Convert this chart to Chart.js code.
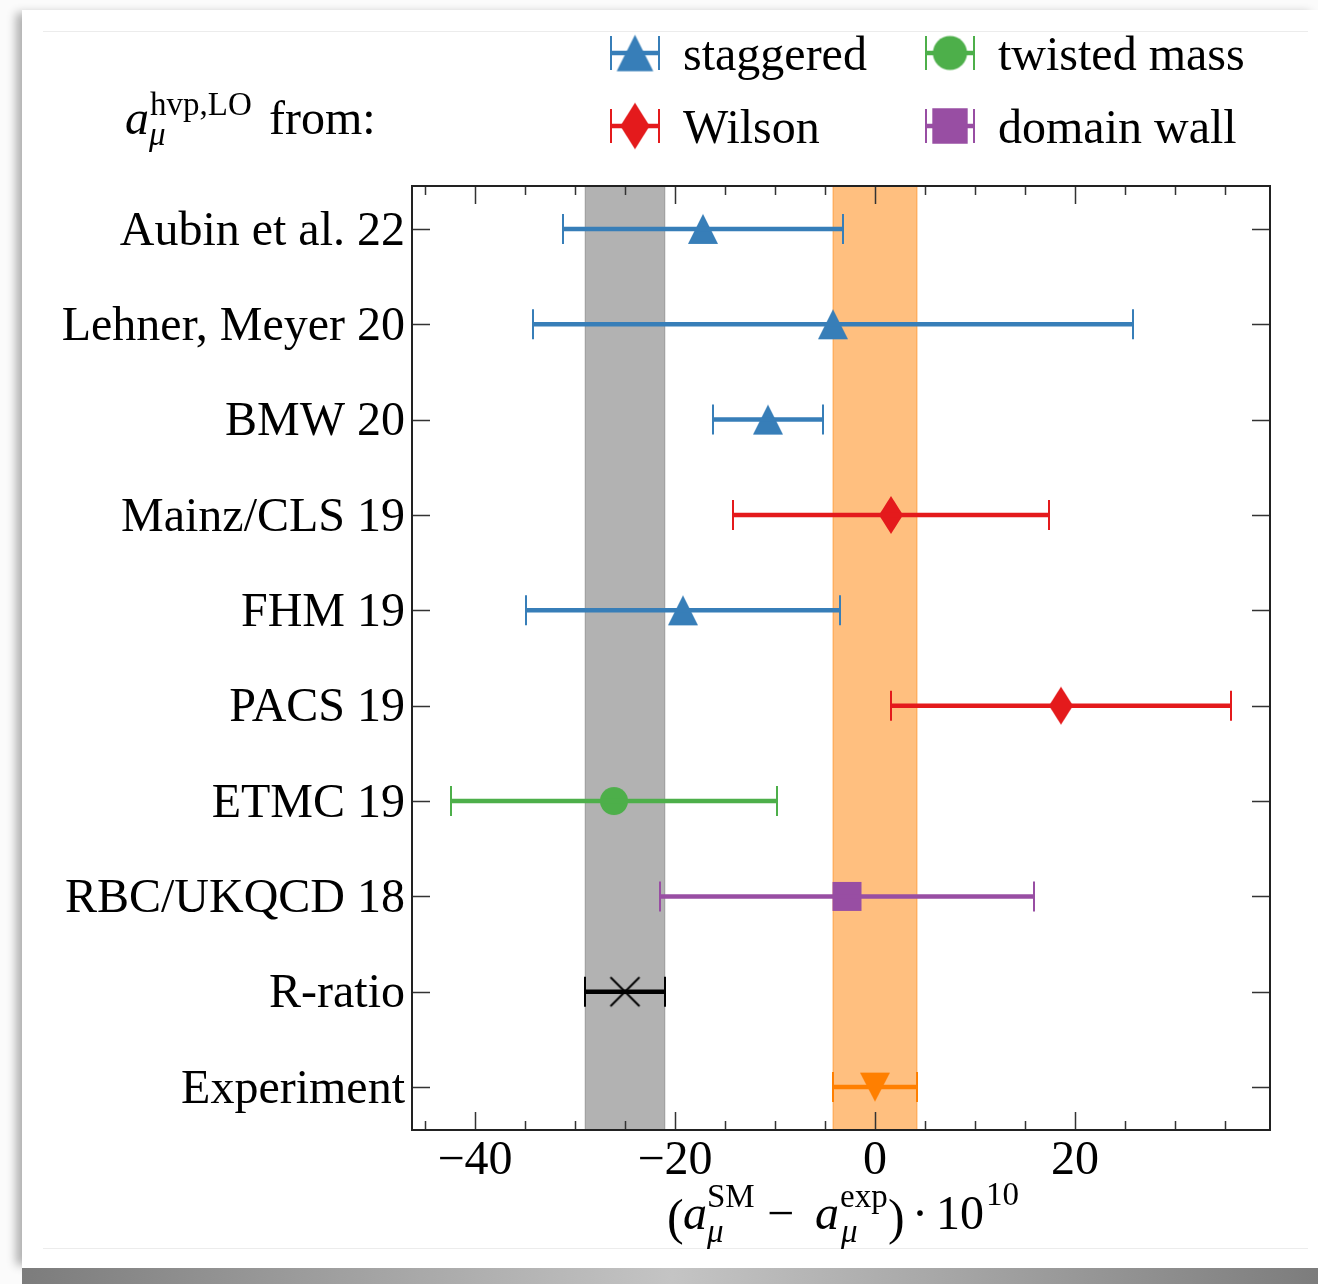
<!DOCTYPE html>
<html>
<head>
<meta charset="utf-8">
<title>hvp LO comparison</title>
<script src="https://cdn.jsdelivr.net/npm/chart.js@4.4.1/dist/chart.umd.min.js"></script>
<style>
  html, body { margin: 0; padding: 0; background: #fbfbfb; }
  #page { position: relative; width: 1318px; height: 1284px; overflow: hidden; }
  .card { position: absolute; left: 22px; top: 10px; width: 1300px; height: 1258px; background: #fff;
          box-shadow: -9px 0 9px -3px rgba(0, 0, 0, 0.3); }
  .curl { position: absolute; left: 22px; top: 1268px; width: 1300px; height: 16px;
          background: linear-gradient(to right, #7c7c7c, #a8a8a8 30%, #c4c4c4 50%, #a8a8a8 70%, #7c7c7c); }
  .rule { position: absolute; left: 43px; width: 1265px; height: 1px; background: #ececec; }
  #chart { position: absolute; left: 0; top: 0; }
</style>
</head>
<body>
<div id="page">
  <div class="card"></div>
  <div class="curl"></div>
  <div class="rule" style="top:31px"></div>
  <div class="rule" style="top:1248px"></div>
  <canvas id="chart" width="1318" height="1284"></canvas>
</div>
<script>
// data, top row first
const categories = ["Aubin et al. 22", "Lehner, Meyer 20", "BMW 20", "Mainz/CLS 19", "FHM 19",
                    "PACS 19", "ETMC 19", "RBC/UKQCD 18", "R-ratio", "Experiment"];
const centralValues = [-17.2, -4.2, -10.7, 1.6, -19.2, 18.6, -26.1, -2.8, -25.0, 0.0];
const errors = [14.0, 30.0, 5.5, 15.8, 15.7, 17.0, 16.3, 18.7, 4.0, 4.2];
const methods = ["staggered", "staggered", "staggered", "Wilson", "staggered",
                 "Wilson", "twisted mass", "domain wall", "R-ratio", "Experiment"];
const xTickValues = [-40, -20, 0, 20];
const legendMethods = ["staggered", "Wilson", "twisted mass", "domain wall"];
const bandMethods = ["R-ratio", "Experiment"];

const FONT = '"Liberation Serif", "Times New Roman", serif';
const BIG = 48;
const SMALL = 33;

const methodStyle = {
  "staggered":    { color: "#377eb8", shape: "tri-up",   w: 30, h: 30 },
  "Wilson":       { color: "#e41a1c", shape: "diamond",  w: 24, h: 38 },
  "twisted mass": { color: "#4daf4a", shape: "circle",   w: 28, h: 28 },
  "domain wall":  { color: "#984ea3", shape: "square",   w: 29, h: 29 },
  "R-ratio":      { color: "#000000", shape: "x",        w: 29, h: 29 },
  "Experiment":   { color: "#ff7f00", shape: "tri-down", w: 30, h: 29 },
};
const bandFill = { "R-ratio": "rgba(0,0,0,0.3)", "Experiment": "rgba(255,127,0,0.5)" };
const bandEdge = { "R-ratio": "rgba(0,0,0,0.12)", "Experiment": "rgba(255,127,0,0.35)" };

// small canvases used as point styles (matplotlib-like markers)
function makeMarker(st, scale) {
  const w = st.w * scale, h = st.h * scale, pad = 2;
  const c = document.createElement("canvas");
  c.width = Math.ceil(w + pad * 2);
  c.height = Math.ceil(h + pad * 2);
  const g = c.getContext("2d");
  g.translate((c.width - w) / 2, (c.height - h) / 2);
  g.fillStyle = st.color;
  g.strokeStyle = st.color;
  g.beginPath();
  if (st.shape === "tri-up") {
    g.moveTo(w / 2, 0); g.lineTo(w, h); g.lineTo(0, h); g.closePath(); g.fill();
  } else if (st.shape === "tri-down") {
    g.moveTo(0, 0); g.lineTo(w, 0); g.lineTo(w / 2, h); g.closePath(); g.fill();
  } else if (st.shape === "diamond") {
    g.moveTo(w / 2, 0); g.lineTo(w, h / 2); g.lineTo(w / 2, h); g.lineTo(0, h / 2); g.closePath(); g.fill();
  } else if (st.shape === "circle") {
    g.arc(w / 2, h / 2, w / 2, 0, Math.PI * 2); g.fill();
  } else if (st.shape === "square") {
    g.rect(0, 0, w, h); g.fill();
  } else if (st.shape === "x") {
    g.lineWidth = 2;
    g.moveTo(0, 0); g.lineTo(w, h); g.moveTo(w, 0); g.lineTo(0, h); g.stroke();
  }
  return c;
}

const datasets = [];
categories.forEach((name, i) => {
  const st = methodStyle[methods[i]];
  // error bar: a two point line with vertical caps
  datasets.push({
    label: name + " error",
    showLine: true,
    data: [{ x: centralValues[i] - errors[i], y: i }, { x: centralValues[i] + errors[i], y: i }],
    borderColor: st.color,
    borderWidth: 4.5,
    pointStyle: "line",
    pointRotation: 90,
    pointRadius: 15,
    pointBorderWidth: 2,
    pointBorderColor: st.color,
  });
  datasets.push({
    label: name,
    data: [{ x: centralValues[i], y: i }],
    pointStyle: makeMarker(st, 1),
    pointRadius: 10,
  });
});

const bandsPlugin = {
  id: "bands",
  beforeDatasetsDraw(chart) {
    const { ctx, chartArea: a, scales: { x } } = chart;
    ctx.save();
    bandMethods.forEach((m) => {
      const i = methods.indexOf(m);
      const x0 = x.getPixelForValue(centralValues[i] - errors[i]);
      const x1 = x.getPixelForValue(centralValues[i] + errors[i]);
      ctx.fillStyle = bandFill[m];
      ctx.fillRect(x0, a.top, x1 - x0, a.bottom - a.top);
      ctx.strokeStyle = bandEdge[m];
      ctx.lineWidth = 1.5;
      ctx.beginPath();
      ctx.moveTo(x0, a.top); ctx.lineTo(x0, a.bottom);
      ctx.moveTo(x1, a.top); ctx.lineTo(x1, a.bottom);
      ctx.stroke();
    });
    ctx.restore();
  },
};

const framePlugin = {
  id: "frame",
  afterDatasetsDraw(chart) {
    const { ctx, chartArea: a, scales: { x, y } } = chart;
    ctx.save();
    ctx.strokeStyle = "#333";
    ctx.lineWidth = 1.5;
    ctx.beginPath();
    for (let v = Math.ceil(x.min / 5) * 5; v <= x.max; v += 5) {
      const px = Math.round(x.getPixelForValue(v)) + 0.5;
      const len = v % 20 === 0 ? 18 : 9;
      ctx.moveTo(px, a.bottom); ctx.lineTo(px, a.bottom - len);
      ctx.moveTo(px, a.top); ctx.lineTo(px, a.top + len);
    }
    categories.forEach((_, i) => {
      const py = Math.round(y.getPixelForValue(i)) + 0.5;
      ctx.moveTo(a.left, py); ctx.lineTo(a.left + 18, py);
      ctx.moveTo(a.right, py); ctx.lineTo(a.right - 18, py);
    });
    ctx.stroke();
    ctx.strokeStyle = "#222";
    ctx.lineWidth = 2;
    ctx.strokeRect(a.left, a.top, a.right - a.left, a.bottom - a.top);
    ctx.restore();
  },
};

function drawParts(ctx, parts) {
  parts.forEach((p) => {
    ctx.font = (p.italic ? "italic " : "") + p.size + "px " + FONT;
    ctx.fillText(p.t, p.x, p.y);
  });
}

const textPlugin = {
  id: "texts",
  afterDraw(chart) {
    const ctx = chart.ctx;
    ctx.save();
    ctx.fillStyle = "#000";
    ctx.textBaseline = "alphabetic";
    ctx.textAlign = "left";

    // heading left of the legend
    drawParts(ctx, [
      { t: "a", x: 125, y: 134, size: BIG, italic: true },
      { t: "hvp,LO", x: 150, y: 115, size: SMALL },
      { t: "\u03bc", x: 149, y: 145, size: SMALL, italic: true },
      { t: "from:", x: 269, y: 134, size: BIG },
    ]);

    // x axis title
    drawParts(ctx, [
      { t: "(", x: 667, y: 1234, size: 50 },
      { t: "a", x: 683, y: 1229, size: BIG, italic: true },
      { t: "SM", x: 707, y: 1207, size: SMALL },
      { t: "\u03bc", x: 707, y: 1242, size: SMALL, italic: true },
      { t: "\u2212", x: 767, y: 1229, size: BIG },
      { t: "a", x: 815, y: 1229, size: BIG, italic: true },
      { t: "exp", x: 840, y: 1207, size: SMALL },
      { t: "\u03bc", x: 841, y: 1242, size: SMALL, italic: true },
      { t: ")", x: 888, y: 1234, size: 50 },
      { t: "\u00b7", x: 912, y: 1229, size: BIG },
      { t: "10", x: 936, y: 1229, size: BIG },
      { t: "10", x: 986, y: 1205, size: SMALL },
    ]);

    // legend: error bar glyph + label, two columns
    const slots = [
      { cx: 635, cy: 53, tx: 683 },
      { cx: 635, cy: 126, tx: 683 },
      { cx: 950, cy: 53, tx: 998 },
      { cx: 950, cy: 126, tx: 998 },
    ];
    legendMethods.forEach((m, k) => {
      const st = methodStyle[m];
      const s = slots[k];
      ctx.strokeStyle = st.color;
      ctx.lineWidth = 4.5;
      ctx.beginPath();
      ctx.moveTo(s.cx - 24, s.cy); ctx.lineTo(s.cx + 24, s.cy);
      ctx.stroke();
      ctx.lineWidth = 2;
      ctx.beginPath();
      ctx.moveTo(s.cx - 24, s.cy - 17); ctx.lineTo(s.cx - 24, s.cy + 17);
      ctx.moveTo(s.cx + 24, s.cy - 17); ctx.lineTo(s.cx + 24, s.cy + 17);
      ctx.stroke();
      const img = makeMarker(st, 1.22);
      ctx.drawImage(img, s.cx - img.width / 2, s.cy - img.height / 2);
      ctx.font = BIG + "px " + FONT;
      ctx.fillText(m, s.tx, s.cy + 17);
    });
    ctx.restore();
  },
};

new Chart(document.getElementById("chart"), {
  type: "scatter",
  data: { datasets },
  plugins: [bandsPlugin, framePlugin, textPlugin],
  options: {
    responsive: false,
    animation: false,
    events: [],
    layout: { padding: { top: 186, right: 48, left: 0, bottom: 0 } },
    plugins: { legend: { display: false }, tooltip: { enabled: false } },
    scales: {
      x: {
        type: "linear",
        min: -46.3,
        max: 39.5,
        grid: { display: false, drawTicks: false },
        border: { display: false },
        afterBuildTicks: (scale) => { scale.ticks = xTickValues.map((v) => ({ value: v })); },
        afterFit: (scale) => { scale.height = 154; },
        ticks: {
          padding: 3,
          color: "#000",
          font: { family: FONT, size: BIG },
          callback: (v) => (v < 0 ? "\u2212" + Math.abs(v) : String(v)),
        },
      },
      y: {
        type: "linear",
        min: -0.45,
        max: 9.45,
        reverse: true,
        grid: { display: false, drawTicks: false },
        border: { display: false },
        afterBuildTicks: (scale) => { scale.ticks = categories.map((_, i) => ({ value: i })); },
        afterFit: (scale) => { scale.width = 412; },
        ticks: {
          padding: 7,
          labelOffset: 3,
          color: "#000",
          font: { family: FONT, size: BIG },
          callback: (v) => categories[v],
        },
      },
    },
  },
});
</script>
</body>
</html>
